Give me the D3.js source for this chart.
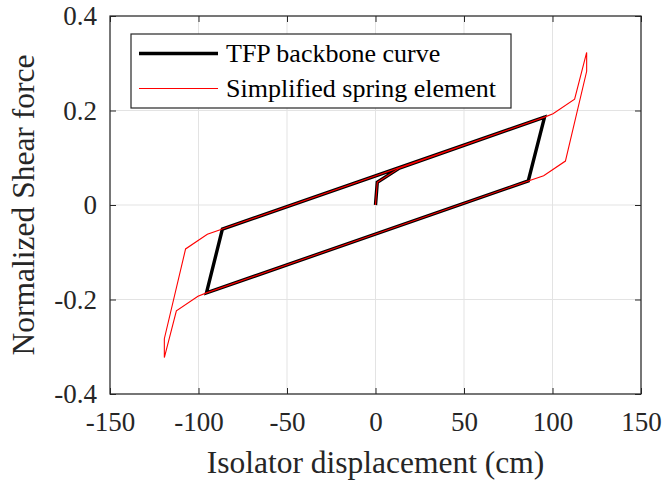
<!DOCTYPE html>
<html>
<head>
<meta charset="utf-8">
<script src="https://cdn.jsdelivr.net/npm/d3@7"></script>
<style>
  html, body { margin: 0; padding: 0; background: #fff; }
  svg { display: block; }
  svg text { font-family: 'Liberation Serif', 'Times New Roman', Times, serif !important; }
</style>
</head>
<body>
<script>
// Hysteresis loop of the triple friction pendulum (TFP) isolator
const backboneX = [0, 1, 13.5, 95.5, 86.3, -95.5, -86.5, 95.5];
const backboneY = [0, 0.048, 0.078, 0.186, 0.051, -0.186, -0.051, 0.186];

const springX = [0, 1, 13.5, 95.5, 100.3, 112.5, 119.3, 119.3, 107.3, 95, 86.3,
                 -95.5, -100.3, -112.5, -119.3, -119.3, -107.3, -95, -86.5, 95.5];
const springY = [0, 0.048, 0.078, 0.186, 0.193, 0.224, 0.323, 0.283, 0.093, 0.062, 0.051,
                 -0.186, -0.193, -0.224, -0.323, -0.283, -0.093, -0.062, -0.051, 0.186];

const xTicks = [-150, -100, -50, 0, 50, 100, 150];
const yTicks = [-0.4, -0.2, 0, 0.2, 0.4];
const xDomain = [-150, 150];
const yDomain = [-0.4, 0.4];

const seriesNames = ["TFP backbone curve", "Simplified spring element"];
const xTitle = "Isolator displacement (cm)";
const yTitle = "Normalized Shear force";

const W = 665, H = 480;
const plot = { left: 110, right: 641, top: 16, bottom: 394 };
const serif = "'Liberation Serif', 'Times New Roman', Times, serif";

const svg = d3.select("body").append("svg").attr("width", W).attr("height", H);

const x = d3.scaleLinear().domain(xDomain).range([plot.left, plot.right]);
const y = d3.scaleLinear().domain(yDomain).range([plot.bottom, plot.top]);

// grid
const grid = svg.append("g").attr("stroke", "#e3e3e3").attr("stroke-width", 1);
grid.selectAll("line.gx").data(xTicks).join("line")
  .attr("x1", d => x(d)).attr("x2", d => x(d))
  .attr("y1", plot.top).attr("y2", plot.bottom);
grid.selectAll("line.gy").data(yTicks).join("line")
  .attr("y1", d => y(d)).attr("y2", d => y(d))
  .attr("x1", plot.left).attr("x2", plot.right);

const fmt = d => String(d);
const tickLen = 6;

function styleAxis(g) {
  g.attr("font-family", null);
  g.selectAll(".domain").remove();
  g.selectAll(".tick line").attr("stroke", "#262626");
  g.selectAll(".tick text")
    .attr("font-size", 27)
    .attr("fill", "#262626")
    .style("font-family", serif);
}

svg.append("g").attr("transform", `translate(0,${plot.bottom})`)
  .call(d3.axisBottom(x).tickValues(xTicks).tickFormat(fmt).tickSizeInner(-tickLen).tickSizeOuter(0).tickPadding(18))
  .call(styleAxis);
svg.append("g").attr("transform", `translate(0,${plot.top})`)
  .call(d3.axisTop(x).tickValues(xTicks).tickFormat("").tickSizeInner(-tickLen).tickSizeOuter(0))
  .call(styleAxis);
svg.append("g").attr("transform", `translate(${plot.left},0)`)
  .call(d3.axisLeft(y).tickValues(yTicks).tickFormat(fmt).tickSizeInner(-tickLen).tickSizeOuter(0).tickPadding(13))
  .call(styleAxis);
svg.append("g").attr("transform", `translate(${plot.right},0)`)
  .call(d3.axisRight(y).tickValues(yTicks).tickFormat("").tickSizeInner(-tickLen).tickSizeOuter(0))
  .call(styleAxis);

// box
svg.append("rect")
  .attr("x", plot.left).attr("y", plot.top)
  .attr("width", plot.right - plot.left).attr("height", plot.bottom - plot.top)
  .attr("fill", "none").attr("stroke", "#262626").attr("stroke-width", 1.2);

// curves
const line = d3.line().x(d => x(d[0])).y(d => y(d[1]));
const backbone = backboneX.map((v, i) => [v, backboneY[i]]);
const spring = springX.map((v, i) => [v, springY[i]]);

svg.append("path").datum(backbone).attr("d", line)
  .attr("fill", "none").attr("stroke", "#000").attr("stroke-width", 3.4)
  .attr("stroke-linejoin", "miter");
svg.append("path").datum(spring).attr("d", line)
  .attr("fill", "none").attr("stroke", "#ff0000").attr("stroke-width", 1.1)
  .attr("stroke-linejoin", "miter");

// axis titles
svg.append("text")
  .attr("x", (plot.left + plot.right) / 2).attr("y", 473)
  .attr("text-anchor", "middle").attr("font-size", 31.5)
  .attr("fill", "#262626").style("font-family", serif)
  .text(xTitle);
svg.append("text")
  .attr("transform", `translate(34,${(plot.top + plot.bottom) / 2}) rotate(-90)`)
  .attr("text-anchor", "middle").attr("font-size", 31.5)
  .attr("fill", "#262626").style("font-family", serif)
  .text(yTitle);

// legend
const legend = svg.append("g");
legend.append("rect")
  .attr("x", 131).attr("y", 34).attr("width", 380).attr("height", 74)
  .attr("fill", "#fff").attr("stroke", "#262626").attr("stroke-width", 1.2);
const legendStyles = [
  { color: "#000", width: 3.4 },
  { color: "#ff0000", width: 1.1 }
];
seriesNames.forEach((name, i) => {
  const cy = 53.5 + i * 35;
  legend.append("line")
    .attr("x1", 139).attr("x2", 218).attr("y1", cy).attr("y2", cy)
    .attr("stroke", legendStyles[i].color).attr("stroke-width", legendStyles[i].width);
  legend.append("text")
    .attr("x", 226).attr("y", cy).attr("dy", "0.34em")
    .attr("font-size", 26)
    .attr("fill", "#000")
    .style("font-family", serif)
    .text(name);
});
</script>
</body>
</html>
